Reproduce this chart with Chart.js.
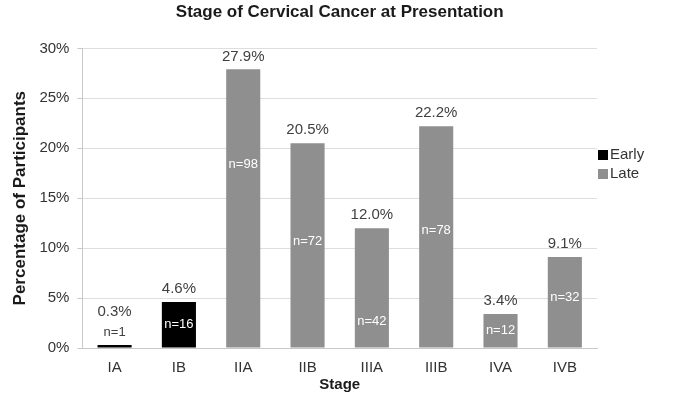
<!DOCTYPE html>
<html>
<head>
<meta charset="utf-8">
<script src="https://cdn.jsdelivr.net/npm/chart.js@4/dist/chart.umd.min.js"></script>
<style>
  body { margin: 0; background: #fff; }
  #wrap { width: 685px; height: 404px; }
</style>
</head>
<body>
<div id="wrap"><canvas id="grafico" width="685" height="404"></canvas></div>
<script>
const stages = ["IA", "IB", "IIA", "IIB", "IIIA", "IIIB", "IVA", "IVB"];
const earlyPct = [0.3, 4.6, null, null, null, null, null, null];
const latePct = [null, null, 27.9, 20.5, 12.0, 22.2, 3.4, 9.1];
const counts = [1, 16, 98, 72, 42, 78, 12, 32];
const seriesNames = ["Early", "Late"];

const FONT = "'Liberation Sans', Arial, sans-serif";
const colors = ["#000000", "#8f8f8f"];

// where the n= label sits inside each bar (fraction of bar height), null = above bar
const countLabelFrac = [null, 0.5, 0.66, 0.52, 0.22, 0.53, 0.5, 0.55];

const barLabels = {
  id: "barLabels",
  afterDatasetsDraw(chart) {
    const c = chart.ctx;
    c.save();
    c.textAlign = "center";
    c.textBaseline = "middle";
    stages.forEach((s, i) => {
      const dsIndex = earlyPct[i] != null ? 0 : 1;
      const val = dsIndex === 0 ? earlyPct[i] : latePct[i];
      const bar = chart.getDatasetMeta(dsIndex).data[i];
      const pct = val.toFixed(1) + "%";
      const frac = countLabelFrac[i];
      c.fillStyle = "#404040";
      if (frac == null) {
        c.font = "13px " + FONT;
        c.fillText("n=" + counts[i], bar.x, bar.y - 13);
        c.font = "15px " + FONT;
        c.fillText(pct, bar.x, bar.y - 33);
      } else {
        c.font = "15px " + FONT;
        c.fillText(pct, bar.x, bar.y - 13);
        c.fillStyle = "#ffffff";
        c.font = "13px " + FONT;
        c.fillText("n=" + counts[i], bar.x, bar.base - frac * (bar.base - bar.y));
      }
    });
    // legend
    const lx = chart.chartArea.right + 1;
    seriesNames.forEach((name, k) => {
      const ly = 155 + k * 19;
      c.fillStyle = colors[k];
      c.fillRect(lx, ly - 5, 10, 10);
      c.fillStyle = "#333333";
      c.textAlign = "left";
      c.font = "15px " + FONT;
      c.fillText(name, lx + 12, ly);
    });
    c.restore();
  },
};

const ctx = document.getElementById("grafico");

new Chart(ctx, {
  type: "bar",
  data: {
    labels: stages,
    datasets: [
      {
        label: seriesNames[0],
        data: earlyPct,
        backgroundColor: colors[0],
        grouped: false,
      },
      {
        label: seriesNames[1],
        data: latePct,
        backgroundColor: colors[1],
        grouped: false,
      },
    ],
  },
  options: {
    responsive: false,
    animation: false,
    devicePixelRatio: 1,
    layout: { padding: { left: 6, right: 88, top: 0, bottom: 6 } },
    datasets: {
      bar: { categoryPercentage: 1, barPercentage: 0.53 },
    },
    plugins: {
      legend: { display: false },
      tooltip: { enabled: false },
      title: {
        display: true,
        fullSize: false,
        text: "Stage of Cervical Cancer at Presentation",
        color: "#1a1a1a",
        font: { family: FONT, size: 17, weight: "bold" },
        padding: { top: 2, bottom: 26 },
      },
    },
    scales: {
      y: {
        min: 0,
        max: 30,
        ticks: {
          stepSize: 5,
          color: "#333333",
          font: { family: FONT, size: 15 },
          padding: 8,
          callback: (v) => v + "%",
        },
        grid: { color: "#dedede", tickLength: 5, tickColor: "#c8c8c8" },
        border: { color: "#c8c8c8" },
        title: {
          display: true,
          text: "Percentage of Participants",
          color: "#1a1a1a",
          font: { family: FONT, size: 17, weight: "bold" },
          padding: { bottom: 1 },
        },
      },
      x: {
        ticks: {
          color: "#333333",
          font: { family: FONT, size: 15 },
          padding: 3,
        },
        grid: { display: false },
        border: { color: "#c8c8c8" },
        title: {
          display: true,
          text: "Stage",
          color: "#1a1a1a",
          font: { family: FONT, size: 15, weight: "bold" },
          padding: { top: -4 },
        },
      },
    },
  },
  plugins: [barLabels],
});
</script>
</body>
</html>
